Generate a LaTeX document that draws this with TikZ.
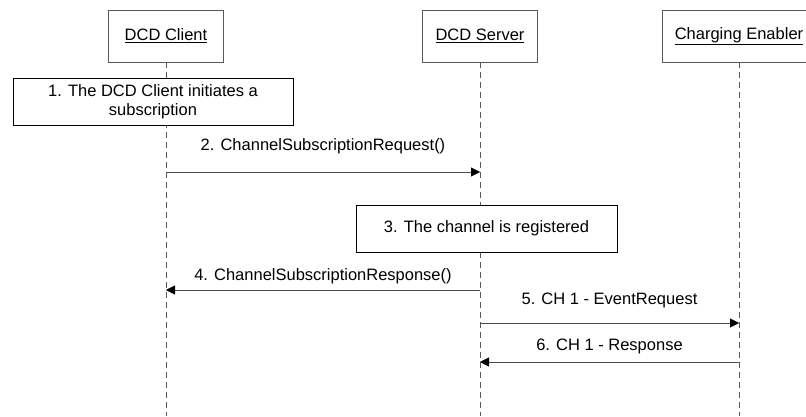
\documentclass[tikz,border=0pt]{standalone}
\usepackage{fontspec}
\setmainfont{Liberation Sans}
\usetikzlibrary{arrows.meta}

\begin{document}
\begin{tikzpicture}[x = 1pt, y = -1pt, > = {Triangle[length = 9pt, width = 9pt, black]}, font = \fontsize{16.5}{19}\selectfont]
\tikzset{
  actor/.style = {draw = gray!70!black, fill = white, rectangle, minimum width = 115pt, minimum height = 52pt},
  note/.style = {draw, thick, fill = white, rectangle, align = center, inner sep = 0pt, minimum height = 47pt},
  lifeline/.style = {draw = gray!70!black, dash pattern = on 6pt off 4pt},
  message/.style = {->, draw = black!70},
  msgLabel/.style = {midway, inner sep = 0pt},
}
\useasboundingbox (0,0) rectangle (806,416);
\node [actor] (dcdClient) at (166,36) {\underline{DCD Client}};
\node [actor, right of = dcdClient, node distance = 314pt] (dcdServer) {\underline{DCD Server}};
\node [actor, right of = dcdServer, node distance = 259pt, minimum width = 154pt] (chargingEnabler) {\underline{Charging Enabler}};
\coordinate (clientEnd) at (dcdClient |- 0,416);
\coordinate (serverEnd) at (dcdServer |- 0,416);
\coordinate (enablerEnd) at (chargingEnabler |- 0,416);
\draw [lifeline] (dcdClient) -- (clientEnd);
\draw [lifeline] (dcdServer) -- (serverEnd);
\draw [lifeline] (chargingEnabler) -- (enablerEnd);
\node [note, minimum width = 280pt] (initSubscription) at (153,101.5) {1. The DCD Client initiates a\\subscription};
\node [note, minimum width = 261pt] (channelRegistered) at (486.5,228.5) {3. The channel is registered};
% messages
\coordinate (clientReq) at (dcdClient |- 0,172);
\coordinate (serverReq) at (dcdServer |- 0,172);
\coordinate (serverResp) at (dcdServer |- 0,290);
\coordinate (clientResp) at (dcdClient |- 0,290);
\coordinate (serverEvent) at (dcdServer |- 0,323);
\coordinate (enablerEvent) at (chargingEnabler |- 0,323);
\coordinate (enablerResp) at (chargingEnabler |- 0,362);
\coordinate (serverEventResp) at (dcdServer |- 0,362);
\draw [message] (clientReq) -- node[msgLabel, yshift = 26pt] {2. ChannelSubscriptionRequest()} (serverReq);
\draw [message] (serverResp) -- node[msgLabel, yshift = 14pt] {4. ChannelSubscriptionResponse()} (clientResp);
\draw [message] (serverEvent) -- node[msgLabel, yshift = 23pt] {5. CH 1 - EventRequest} (enablerEvent);
\draw [message] (enablerResp) -- node[msgLabel, yshift = 16pt] {6. CH 1 - Response} (serverEventResp);
\end{tikzpicture}
\end{document}
